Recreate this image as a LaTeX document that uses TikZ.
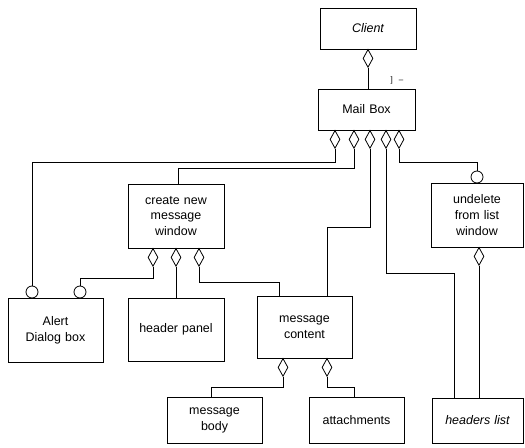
\documentclass[tikz,border=0pt]{standalone}
\usepackage{fontspec}
\setmainfont{Liberation Sans}
\usetikzlibrary{shapes.geometric}
\begin{document}
\begin{tikzpicture}[x=1bp,y=-1bp,
  every node/.style={font=\fontsize{12.5}{16}\selectfont},
  cls/.style={draw, line width=0.8bp, inner sep=0pt, align=center, text width=#1},
  agg/.style={diamond, draw, line width=0.8bp, fill=white, inner sep=0pt,
              minimum width=10bp, minimum height=18bp, anchor=north},
  ifc/.style={circle, draw, line width=0.8bp, fill=white, inner sep=0pt,
              minimum size=12bp},
  link/.style={line width=0.8bp}]
\useasboundingbox (0,0) rectangle (525,448);

% classes
\node[cls=96bp, minimum width=96bp, minimum height=41bp] (client) at (368,28.5) {\itshape Client};
\node[cls=97bp, minimum width=97bp, minimum height=41bp] (mail) at (366.5,109.5) {Mail Box};
\node[cls=96bp, minimum width=96bp, minimum height=64bp] (create) at (176,216) {create new\\message\\window};
\node[cls=92bp, minimum width=92bp, minimum height=64bp] (undel) at (477,215) {undelete\\from list\\window};
\node[cls=95bp, minimum width=95bp, minimum height=64bp] (alert) at (55.5,330) {Alert\\Dialog box};
\node[cls=96bp, minimum width=96bp, minimum height=63bp] (header) at (176,329.5) {header panel};
\node[cls=95bp, minimum width=95bp, minimum height=62bp] (content) at (304.5,327) {message\\content};
\node[cls=95bp, minimum width=95bp, minimum height=46bp] (body) at (214.5,420) {message\\body};
\node[cls=95bp, minimum width=95bp, minimum height=46bp] (attach) at (356.5,420) {attachments};
\node[cls=91bp, minimum width=91bp, minimum height=45bp] (hlist) at (477.5,420.5) {\itshape headers list};

% aggregation diamonds
\node[agg] (cd) at (368,49) {};
\node[agg] (m1) at (335,130) {};
\node[agg] (m2) at (354,130) {};
\node[agg] (m3) at (370,130) {};
\node[agg] (m4) at (386,130) {};
\node[agg] (m5) at (399,130) {};
\node[agg] (c1) at (153,248) {};
\node[agg] (c2) at (176,248) {};
\node[agg] (c3) at (199,248) {};
\node[agg] (ud) at (479,247) {};
\node[agg] (t1) at (283,358) {};
\node[agg] (t2) at (327,358) {};

% interface circles
\node[ifc] (ca1) at (32,292) {};
\node[ifc] (ca2) at (80,292) {};
\node[ifc] (cu) at (477,177) {};

% multiplicity marks
\node[font=\fontsize{8}{8}\selectfont, inner sep=0pt] (mk) at (397,80) {]\hspace{6bp}--};

% connectors
\draw[link] (cd.south) -- (mail.north -| cd.south);
\draw[link] (m1.south) -- ++(0,14) -| (ca1.north);
\draw[link] (m2.south) -- ++(0,20) -| ([xshift=2bp]create.north);
\draw[link] (m3.south) -- ++(0,79) -| ([xshift=22.5bp]content.north);
\draw[link] (m4.south) -- ++(0,125) -| ([xshift=-23.5bp]hlist.north);
\draw[link] (m5.south) -- ++(0,14) -| (cu.north);
\draw[link] (ud.south) -- (hlist.north -| ud.south);
\draw[link] (c1.south) -- ++(0,12) -| (ca2.north);
\draw[link] (c2.south) -- (header.north);
\draw[link] (c3.south) -- ++(0,16) -| ([xshift=-25.5bp]content.north);
\draw[link] (t1.south) -- ++(0,11) -| ([xshift=-3.5bp]body.north);
\draw[link] (t2.south) -- ++(0,11) -| ([xshift=-2.5bp]attach.north);
\end{tikzpicture}
\end{document}
